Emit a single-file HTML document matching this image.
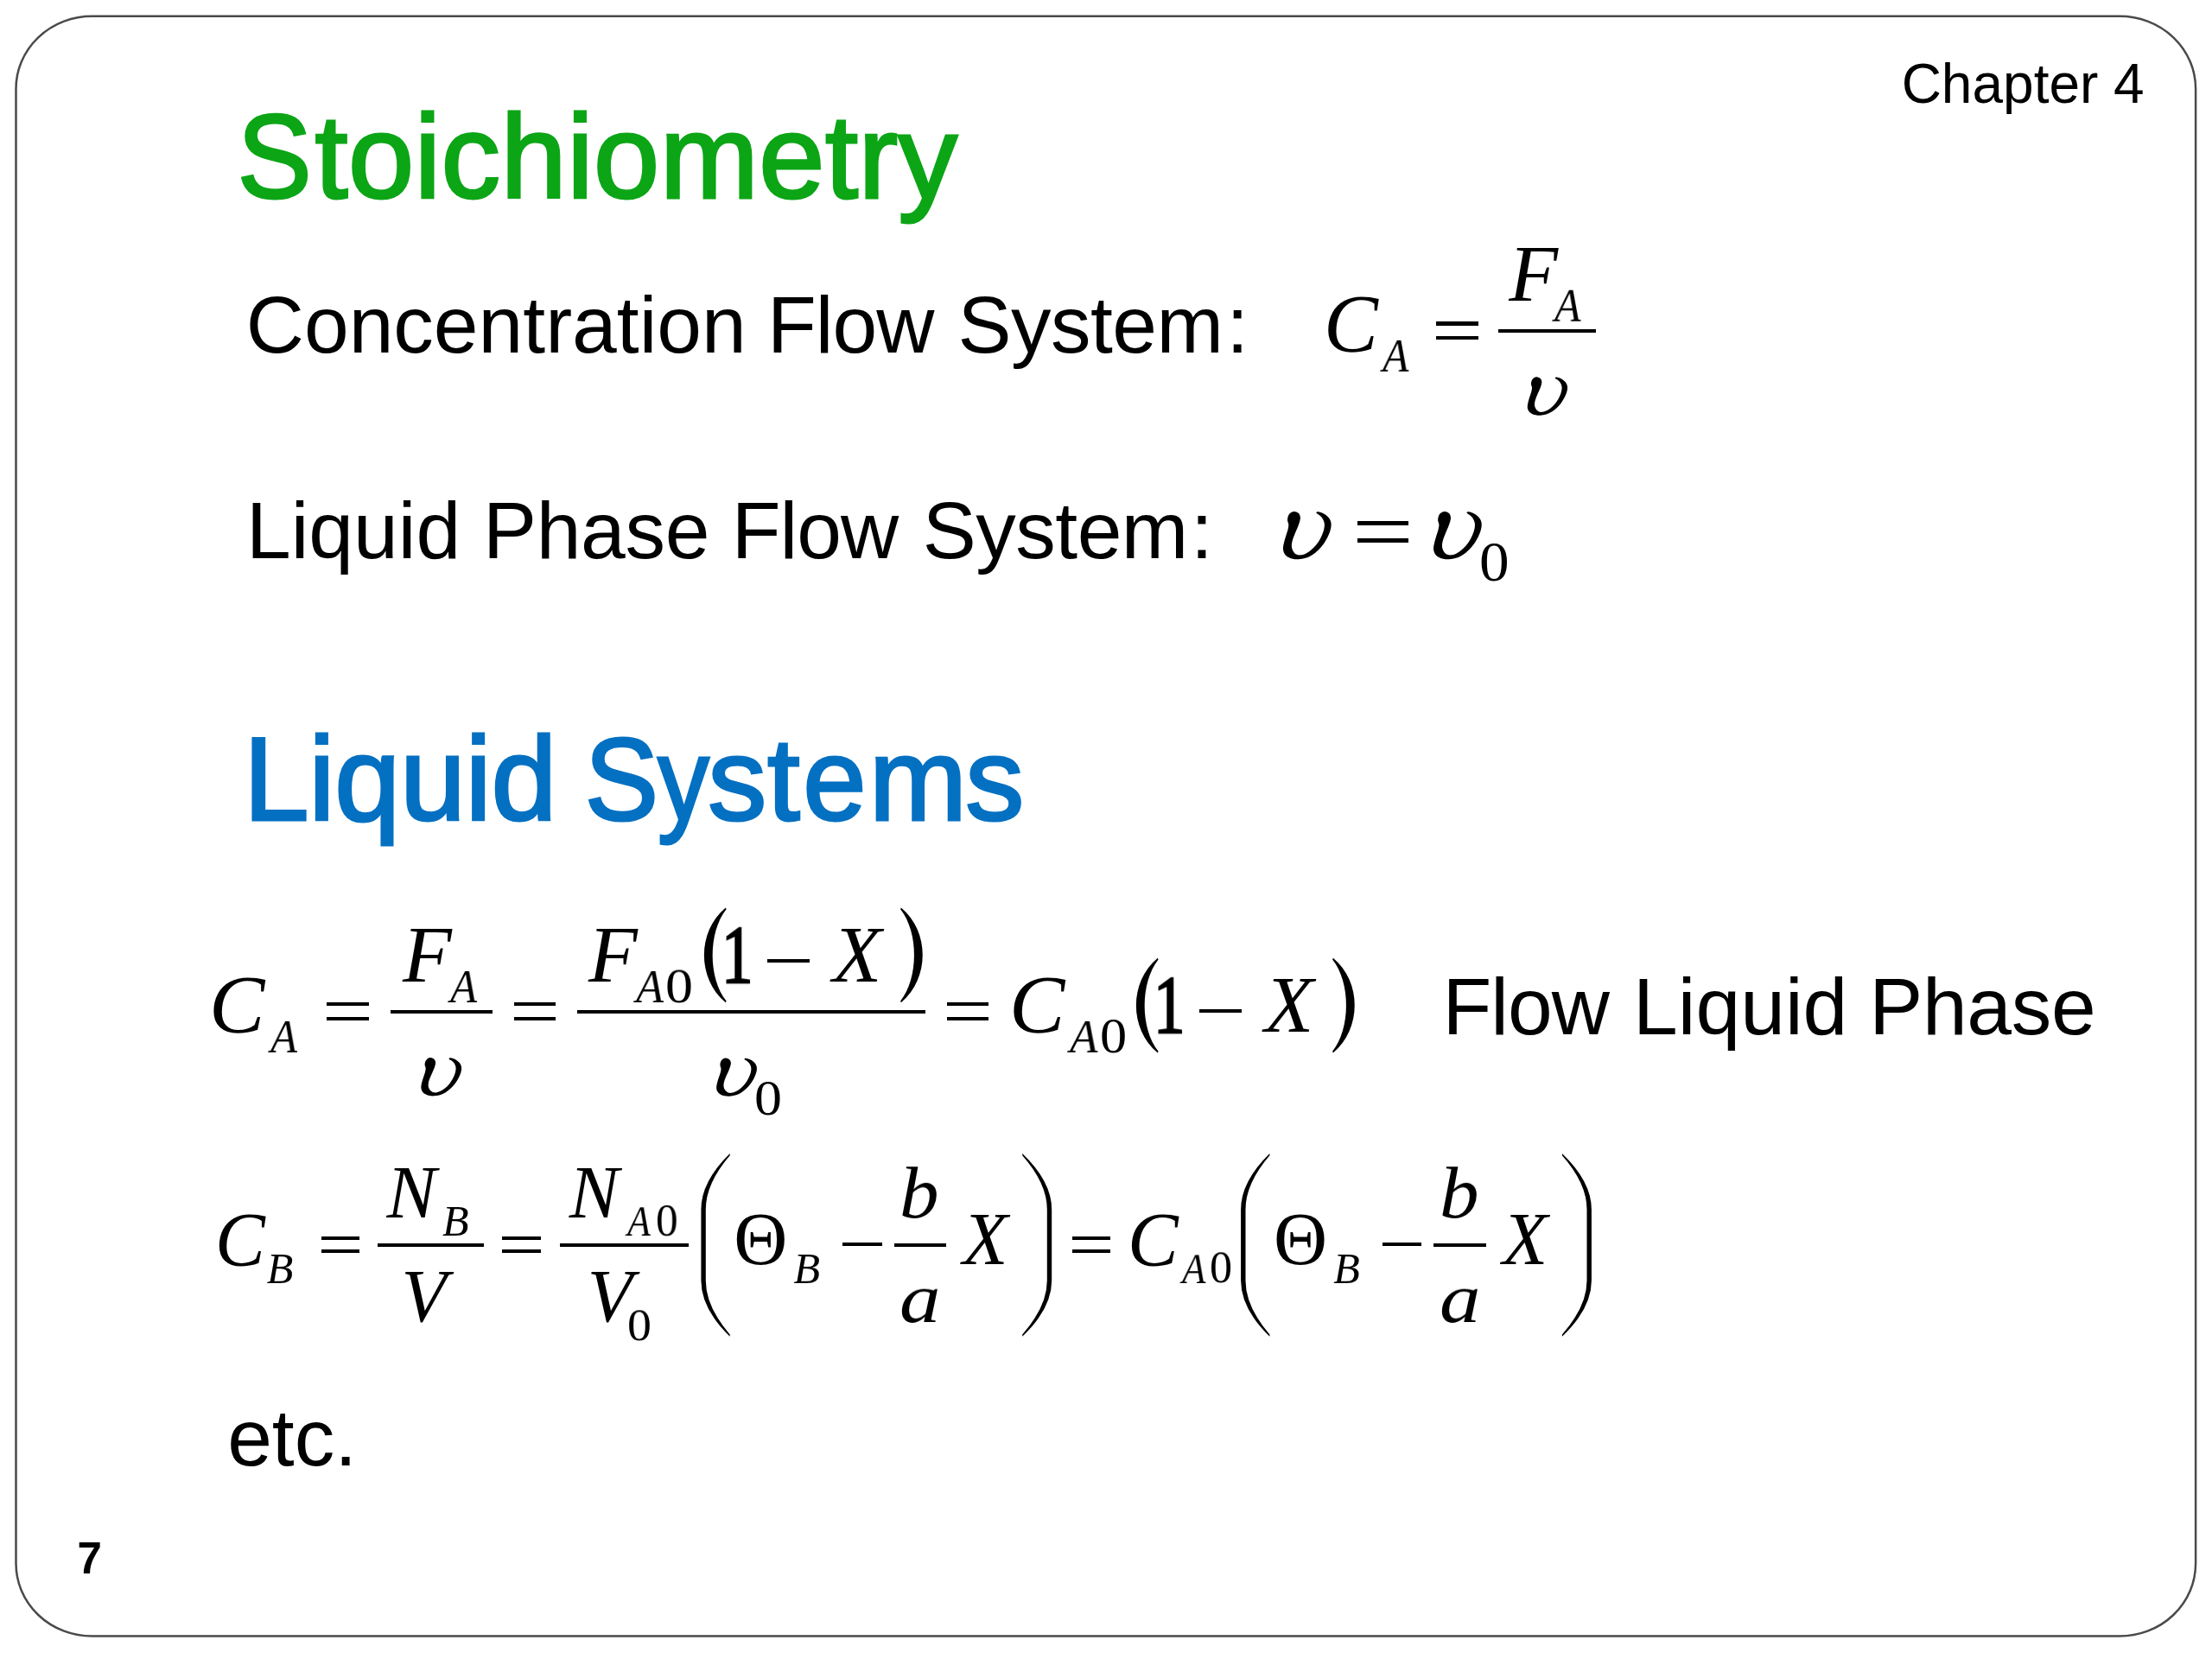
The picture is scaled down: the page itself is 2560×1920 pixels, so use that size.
<!DOCTYPE html>
<html lang="en"><head><meta charset="utf-8"><title>Stoichiometry</title>
<style>
html,body{margin:0;padding:0;background:#fff;}
body{width:2560px;height:1920px;position:relative;overflow:hidden;}
.t{position:absolute;white-space:pre;line-height:1;color:#000;}
.sans{font-family:"Liberation Sans",sans-serif;}
.sansb{font-family:"Liberation Sans",sans-serif;font-weight:bold;}
.ser{font-family:"Liberation Serif",serif;}
.seri{font-family:"Liberation Serif",serif;font-style:italic;}
.bar{position:absolute;background:#000;}
svg.ov{position:absolute;left:0;top:0;}
</style></head>
<body>
<svg class="ov" width="2560" height="1920" viewBox="0 0 2560 1920">
<rect x="18.5" y="18.7" width="2522.6" height="1874.9" rx="88" ry="84" fill="none" stroke="#4a4a4a" stroke-width="2.5"/>
<path transform="translate(1767.60 480.20) scale(0.09486 0.09160)" d="M 107.9 -479.4 C 96.6 -477.8 83.6 -471.3 74.1 -462.5 C 64.5 -453.7 55.4 -439.6 50.8 -426.5 C 46.2 -413.5 45.5 -397.6 46.5 -384.2 C 47.6 -370.8 56.8 -361.7 57.1 -346.1 C 57.5 -330.6 53.2 -310.2 48.7 -291.1 C 44.1 -272.1 35.6 -251.6 29.6 -231.9 C 23.6 -212.1 17.3 -191.7 12.7 -172.6 C 8.1 -153.6 3.5 -133.2 2.1 -117.6 C 0.7 -102.1 1.4 -91.5 4.2 -79.6 C 7.1 -67.6 10.9 -56.3 19.0 -45.7 C 27.2 -35.1 39.5 -24.0 52.9 -16.1 C 66.3 -8.2 81.8 -2.0 99.4 1.7 C 117.1 5.4 136.8 7.3 158.7 5.9 C 180.5 4.5 208.0 0.3 230.6 -6.8 C 253.2 -13.8 272.9 -23.0 294.1 -36.4 C 315.2 -49.8 337.8 -68.1 357.6 -87.2 C 377.3 -106.2 396.4 -128.1 412.6 -150.6 C 428.8 -173.2 443.6 -200.0 454.9 -222.6 C 466.2 -245.1 474.5 -266.9 480.3 -286.1 C 486.1 -305.2 488.9 -322.0 489.6 -337.7 C 490.3 -353.3 488.9 -366.6 484.5 -380.0 C 480.1 -393.4 473.2 -406.2 463.4 -418.1 C 453.5 -429.9 439.4 -442.1 425.3 -451.1 C 411.2 -460.1 391.8 -467.9 378.7 -472.2 C 365.7 -476.6 347.0 -477.3 347.0 -477.3 C 347.0 -477.3 336.4 -462.5 336.4 -462.5 C 336.4 -462.5 359.7 -449.8 370.3 -441.3 C 380.8 -432.9 392.0 -423.4 399.9 -411.7 C 407.8 -400.1 414.1 -385.3 417.7 -371.5 C 421.2 -357.8 422.6 -346.1 421.0 -329.2 C 419.5 -312.3 415.4 -291.1 408.3 -270.0 C 401.3 -248.8 390.7 -224.1 378.7 -202.3 C 366.7 -180.4 351.9 -157.8 336.4 -138.8 C 320.9 -119.8 302.6 -102.1 285.6 -88.0 C 268.7 -73.9 251.8 -62.6 234.8 -54.2 C 217.9 -45.7 199.6 -39.4 184.1 -37.2 C 168.6 -35.1 154.1 -36.5 141.8 -41.5 C 129.4 -46.4 118.3 -56.3 110.0 -66.9 C 101.7 -77.4 95.4 -91.5 91.8 -104.9 C 88.3 -118.3 87.2 -131.0 88.9 -147.3 C 90.5 -163.5 95.6 -183.2 101.6 -202.3 C 107.6 -221.3 116.7 -241.8 124.8 -261.5 C 132.9 -281.3 143.0 -302.4 150.2 -320.7 C 157.4 -339.1 163.6 -356.0 168.0 -371.5 C 172.4 -387.0 176.6 -400.8 176.5 -413.8 C 176.3 -426.9 172.9 -440.1 167.1 -449.8 C 161.4 -459.5 151.6 -467.3 141.8 -472.2 C 131.9 -477.2 119.2 -481.1 107.9 -479.4 Z"/>
<path transform="translate(1484.80 646.60) scale(0.11400 0.11400)" d="M 107.9 -479.4 C 96.6 -477.8 83.6 -471.3 74.1 -462.5 C 64.5 -453.7 55.4 -439.6 50.8 -426.5 C 46.2 -413.5 45.5 -397.6 46.5 -384.2 C 47.6 -370.8 56.8 -361.7 57.1 -346.1 C 57.5 -330.6 53.2 -310.2 48.7 -291.1 C 44.1 -272.1 35.6 -251.6 29.6 -231.9 C 23.6 -212.1 17.3 -191.7 12.7 -172.6 C 8.1 -153.6 3.5 -133.2 2.1 -117.6 C 0.7 -102.1 1.4 -91.5 4.2 -79.6 C 7.1 -67.6 10.9 -56.3 19.0 -45.7 C 27.2 -35.1 39.5 -24.0 52.9 -16.1 C 66.3 -8.2 81.8 -2.0 99.4 1.7 C 117.1 5.4 136.8 7.3 158.7 5.9 C 180.5 4.5 208.0 0.3 230.6 -6.8 C 253.2 -13.8 272.9 -23.0 294.1 -36.4 C 315.2 -49.8 337.8 -68.1 357.6 -87.2 C 377.3 -106.2 396.4 -128.1 412.6 -150.6 C 428.8 -173.2 443.6 -200.0 454.9 -222.6 C 466.2 -245.1 474.5 -266.9 480.3 -286.1 C 486.1 -305.2 488.9 -322.0 489.6 -337.7 C 490.3 -353.3 488.9 -366.6 484.5 -380.0 C 480.1 -393.4 473.2 -406.2 463.4 -418.1 C 453.5 -429.9 439.4 -442.1 425.3 -451.1 C 411.2 -460.1 391.8 -467.9 378.7 -472.2 C 365.7 -476.6 347.0 -477.3 347.0 -477.3 C 347.0 -477.3 336.4 -462.5 336.4 -462.5 C 336.4 -462.5 359.7 -449.8 370.3 -441.3 C 380.8 -432.9 392.0 -423.4 399.9 -411.7 C 407.8 -400.1 414.1 -385.3 417.7 -371.5 C 421.2 -357.8 422.6 -346.1 421.0 -329.2 C 419.5 -312.3 415.4 -291.1 408.3 -270.0 C 401.3 -248.8 390.7 -224.1 378.7 -202.3 C 366.7 -180.4 351.9 -157.8 336.4 -138.8 C 320.9 -119.8 302.6 -102.1 285.6 -88.0 C 268.7 -73.9 251.8 -62.6 234.8 -54.2 C 217.9 -45.7 199.6 -39.4 184.1 -37.2 C 168.6 -35.1 154.1 -36.5 141.8 -41.5 C 129.4 -46.4 118.3 -56.3 110.0 -66.9 C 101.7 -77.4 95.4 -91.5 91.8 -104.9 C 88.3 -118.3 87.2 -131.0 88.9 -147.3 C 90.5 -163.5 95.6 -183.2 101.6 -202.3 C 107.6 -221.3 116.7 -241.8 124.8 -261.5 C 132.9 -281.3 143.0 -302.4 150.2 -320.7 C 157.4 -339.1 163.6 -356.0 168.0 -371.5 C 172.4 -387.0 176.6 -400.8 176.5 -413.8 C 176.3 -426.9 172.9 -440.1 167.1 -449.8 C 161.4 -459.5 151.6 -467.3 141.8 -472.2 C 131.9 -477.2 119.2 -481.1 107.9 -479.4 Z"/>
<path transform="translate(1658.90 646.60) scale(0.11400 0.11400)" d="M 107.9 -479.4 C 96.6 -477.8 83.6 -471.3 74.1 -462.5 C 64.5 -453.7 55.4 -439.6 50.8 -426.5 C 46.2 -413.5 45.5 -397.6 46.5 -384.2 C 47.6 -370.8 56.8 -361.7 57.1 -346.1 C 57.5 -330.6 53.2 -310.2 48.7 -291.1 C 44.1 -272.1 35.6 -251.6 29.6 -231.9 C 23.6 -212.1 17.3 -191.7 12.7 -172.6 C 8.1 -153.6 3.5 -133.2 2.1 -117.6 C 0.7 -102.1 1.4 -91.5 4.2 -79.6 C 7.1 -67.6 10.9 -56.3 19.0 -45.7 C 27.2 -35.1 39.5 -24.0 52.9 -16.1 C 66.3 -8.2 81.8 -2.0 99.4 1.7 C 117.1 5.4 136.8 7.3 158.7 5.9 C 180.5 4.5 208.0 0.3 230.6 -6.8 C 253.2 -13.8 272.9 -23.0 294.1 -36.4 C 315.2 -49.8 337.8 -68.1 357.6 -87.2 C 377.3 -106.2 396.4 -128.1 412.6 -150.6 C 428.8 -173.2 443.6 -200.0 454.9 -222.6 C 466.2 -245.1 474.5 -266.9 480.3 -286.1 C 486.1 -305.2 488.9 -322.0 489.6 -337.7 C 490.3 -353.3 488.9 -366.6 484.5 -380.0 C 480.1 -393.4 473.2 -406.2 463.4 -418.1 C 453.5 -429.9 439.4 -442.1 425.3 -451.1 C 411.2 -460.1 391.8 -467.9 378.7 -472.2 C 365.7 -476.6 347.0 -477.3 347.0 -477.3 C 347.0 -477.3 336.4 -462.5 336.4 -462.5 C 336.4 -462.5 359.7 -449.8 370.3 -441.3 C 380.8 -432.9 392.0 -423.4 399.9 -411.7 C 407.8 -400.1 414.1 -385.3 417.7 -371.5 C 421.2 -357.8 422.6 -346.1 421.0 -329.2 C 419.5 -312.3 415.4 -291.1 408.3 -270.0 C 401.3 -248.8 390.7 -224.1 378.7 -202.3 C 366.7 -180.4 351.9 -157.8 336.4 -138.8 C 320.9 -119.8 302.6 -102.1 285.6 -88.0 C 268.7 -73.9 251.8 -62.6 234.8 -54.2 C 217.9 -45.7 199.6 -39.4 184.1 -37.2 C 168.6 -35.1 154.1 -36.5 141.8 -41.5 C 129.4 -46.4 118.3 -56.3 110.0 -66.9 C 101.7 -77.4 95.4 -91.5 91.8 -104.9 C 88.3 -118.3 87.2 -131.0 88.9 -147.3 C 90.5 -163.5 95.6 -183.2 101.6 -202.3 C 107.6 -221.3 116.7 -241.8 124.8 -261.5 C 132.9 -281.3 143.0 -302.4 150.2 -320.7 C 157.4 -339.1 163.6 -356.0 168.0 -371.5 C 172.4 -387.0 176.6 -400.8 176.5 -413.8 C 176.3 -426.9 172.9 -440.1 167.1 -449.8 C 161.4 -459.5 151.6 -467.3 141.8 -472.2 C 131.9 -477.2 119.2 -481.1 107.9 -479.4 Z"/>
<path transform="translate(487.20 1267.80) scale(0.09579 0.09114)" d="M 107.9 -479.4 C 96.6 -477.8 83.6 -471.3 74.1 -462.5 C 64.5 -453.7 55.4 -439.6 50.8 -426.5 C 46.2 -413.5 45.5 -397.6 46.5 -384.2 C 47.6 -370.8 56.8 -361.7 57.1 -346.1 C 57.5 -330.6 53.2 -310.2 48.7 -291.1 C 44.1 -272.1 35.6 -251.6 29.6 -231.9 C 23.6 -212.1 17.3 -191.7 12.7 -172.6 C 8.1 -153.6 3.5 -133.2 2.1 -117.6 C 0.7 -102.1 1.4 -91.5 4.2 -79.6 C 7.1 -67.6 10.9 -56.3 19.0 -45.7 C 27.2 -35.1 39.5 -24.0 52.9 -16.1 C 66.3 -8.2 81.8 -2.0 99.4 1.7 C 117.1 5.4 136.8 7.3 158.7 5.9 C 180.5 4.5 208.0 0.3 230.6 -6.8 C 253.2 -13.8 272.9 -23.0 294.1 -36.4 C 315.2 -49.8 337.8 -68.1 357.6 -87.2 C 377.3 -106.2 396.4 -128.1 412.6 -150.6 C 428.8 -173.2 443.6 -200.0 454.9 -222.6 C 466.2 -245.1 474.5 -266.9 480.3 -286.1 C 486.1 -305.2 488.9 -322.0 489.6 -337.7 C 490.3 -353.3 488.9 -366.6 484.5 -380.0 C 480.1 -393.4 473.2 -406.2 463.4 -418.1 C 453.5 -429.9 439.4 -442.1 425.3 -451.1 C 411.2 -460.1 391.8 -467.9 378.7 -472.2 C 365.7 -476.6 347.0 -477.3 347.0 -477.3 C 347.0 -477.3 336.4 -462.5 336.4 -462.5 C 336.4 -462.5 359.7 -449.8 370.3 -441.3 C 380.8 -432.9 392.0 -423.4 399.9 -411.7 C 407.8 -400.1 414.1 -385.3 417.7 -371.5 C 421.2 -357.8 422.6 -346.1 421.0 -329.2 C 419.5 -312.3 415.4 -291.1 408.3 -270.0 C 401.3 -248.8 390.7 -224.1 378.7 -202.3 C 366.7 -180.4 351.9 -157.8 336.4 -138.8 C 320.9 -119.8 302.6 -102.1 285.6 -88.0 C 268.7 -73.9 251.8 -62.6 234.8 -54.2 C 217.9 -45.7 199.6 -39.4 184.1 -37.2 C 168.6 -35.1 154.1 -36.5 141.8 -41.5 C 129.4 -46.4 118.3 -56.3 110.0 -66.9 C 101.7 -77.4 95.4 -91.5 91.8 -104.9 C 88.3 -118.3 87.2 -131.0 88.9 -147.3 C 90.5 -163.5 95.6 -183.2 101.6 -202.3 C 107.6 -221.3 116.7 -241.8 124.8 -261.5 C 132.9 -281.3 143.0 -302.4 150.2 -320.7 C 157.4 -339.1 163.6 -356.0 168.0 -371.5 C 172.4 -387.0 176.6 -400.8 176.5 -413.8 C 176.3 -426.9 172.9 -440.1 167.1 -449.8 C 161.4 -459.5 151.6 -467.3 141.8 -472.2 C 131.9 -477.2 119.2 -481.1 107.9 -479.4 Z"/>
<path d="M 839.80 1050.60 C 806.60 1078.00 806.60 1132.80 839.80 1160.20 L 840.60 1158.60 C 819.40 1132.00 819.40 1078.80 840.60 1052.20 Z"/>
<path d="M 1042.90 1050.60 C 1076.10 1078.00 1076.10 1132.80 1042.90 1160.20 L 1042.10 1158.60 C 1063.30 1132.00 1063.30 1078.80 1042.10 1052.20 Z"/>
<path transform="translate(829.00 1268.20) scale(0.09579 0.09114)" d="M 107.9 -479.4 C 96.6 -477.8 83.6 -471.3 74.1 -462.5 C 64.5 -453.7 55.4 -439.6 50.8 -426.5 C 46.2 -413.5 45.5 -397.6 46.5 -384.2 C 47.6 -370.8 56.8 -361.7 57.1 -346.1 C 57.5 -330.6 53.2 -310.2 48.7 -291.1 C 44.1 -272.1 35.6 -251.6 29.6 -231.9 C 23.6 -212.1 17.3 -191.7 12.7 -172.6 C 8.1 -153.6 3.5 -133.2 2.1 -117.6 C 0.7 -102.1 1.4 -91.5 4.2 -79.6 C 7.1 -67.6 10.9 -56.3 19.0 -45.7 C 27.2 -35.1 39.5 -24.0 52.9 -16.1 C 66.3 -8.2 81.8 -2.0 99.4 1.7 C 117.1 5.4 136.8 7.3 158.7 5.9 C 180.5 4.5 208.0 0.3 230.6 -6.8 C 253.2 -13.8 272.9 -23.0 294.1 -36.4 C 315.2 -49.8 337.8 -68.1 357.6 -87.2 C 377.3 -106.2 396.4 -128.1 412.6 -150.6 C 428.8 -173.2 443.6 -200.0 454.9 -222.6 C 466.2 -245.1 474.5 -266.9 480.3 -286.1 C 486.1 -305.2 488.9 -322.0 489.6 -337.7 C 490.3 -353.3 488.9 -366.6 484.5 -380.0 C 480.1 -393.4 473.2 -406.2 463.4 -418.1 C 453.5 -429.9 439.4 -442.1 425.3 -451.1 C 411.2 -460.1 391.8 -467.9 378.7 -472.2 C 365.7 -476.6 347.0 -477.3 347.0 -477.3 C 347.0 -477.3 336.4 -462.5 336.4 -462.5 C 336.4 -462.5 359.7 -449.8 370.3 -441.3 C 380.8 -432.9 392.0 -423.4 399.9 -411.7 C 407.8 -400.1 414.1 -385.3 417.7 -371.5 C 421.2 -357.8 422.6 -346.1 421.0 -329.2 C 419.5 -312.3 415.4 -291.1 408.3 -270.0 C 401.3 -248.8 390.7 -224.1 378.7 -202.3 C 366.7 -180.4 351.9 -157.8 336.4 -138.8 C 320.9 -119.8 302.6 -102.1 285.6 -88.0 C 268.7 -73.9 251.8 -62.6 234.8 -54.2 C 217.9 -45.7 199.6 -39.4 184.1 -37.2 C 168.6 -35.1 154.1 -36.5 141.8 -41.5 C 129.4 -46.4 118.3 -56.3 110.0 -66.9 C 101.7 -77.4 95.4 -91.5 91.8 -104.9 C 88.3 -118.3 87.2 -131.0 88.9 -147.3 C 90.5 -163.5 95.6 -183.2 101.6 -202.3 C 107.6 -221.3 116.7 -241.8 124.8 -261.5 C 132.9 -281.3 143.0 -302.4 150.2 -320.7 C 157.4 -339.1 163.6 -356.0 168.0 -371.5 C 172.4 -387.0 176.6 -400.8 176.5 -413.8 C 176.3 -426.9 172.9 -440.1 167.1 -449.8 C 161.4 -459.5 151.6 -467.3 141.8 -472.2 C 131.9 -477.2 119.2 -481.1 107.9 -479.4 Z"/>
<path d="M 1339.80 1108.80 C 1306.60 1136.20 1306.60 1191.00 1339.80 1218.40 L 1340.60 1216.80 C 1319.40 1190.20 1319.40 1137.00 1340.60 1110.40 Z"/>
<path d="M 1542.90 1108.80 C 1576.10 1136.20 1576.10 1191.00 1542.90 1218.40 L 1542.10 1216.80 C 1563.30 1190.20 1563.30 1137.00 1542.10 1110.40 Z"/>
<path d="M 844.70 1334.90 Q 811.40 1367.32 811.40 1399.74 L 811.40 1481.96 Q 811.40 1514.38 844.70 1546.80 L 844.70 1544.40 Q 816.80 1511.98 816.80 1481.96 L 816.80 1399.74 Q 816.80 1369.72 844.70 1337.30 Z"/>
<path d="M 1183.20 1334.90 Q 1217.20 1367.32 1217.20 1399.74 L 1217.20 1481.96 Q 1217.20 1514.38 1183.20 1546.80 L 1183.20 1544.40 Q 1211.80 1511.98 1211.80 1481.96 L 1211.80 1399.74 Q 1211.80 1369.72 1183.20 1337.30 Z"/>
<path d="M 1469.40 1334.90 Q 1436.10 1367.32 1436.10 1399.74 L 1436.10 1481.96 Q 1436.10 1514.38 1469.40 1546.80 L 1469.40 1544.40 Q 1441.50 1511.98 1441.50 1481.96 L 1441.50 1399.74 Q 1441.50 1369.72 1469.40 1337.30 Z"/>
<path d="M 1807.90 1334.90 Q 1841.90 1367.32 1841.90 1399.74 L 1841.90 1481.96 Q 1841.90 1514.38 1807.90 1546.80 L 1807.90 1544.40 Q 1836.50 1511.98 1836.50 1481.96 L 1836.50 1399.74 Q 1836.50 1369.72 1807.90 1337.30 Z"/>
</svg>
<span class="t sans" style="left:2200.65px;top:64.50px;font-size:64px;">Chapter 4</span>
<span class="t sans" style="left:272.13px;top:113.30px;font-size:137px;color:#0ca516;-webkit-text-stroke:3px #0ca516;transform:scaleX(0.94);transform-origin:45.66px 50%;">S</span>
<span class="t sans" style="left:364.56px;top:113.30px;font-size:137px;color:#0ca516;letter-spacing:0.45px;-webkit-text-stroke:3px #0ca516;">toichiometry</span>
<span class="t sans" style="left:284.78px;top:329.50px;font-size:93px;">Concentration</span>
<span class="t sans" style="left:888.07px;top:329.50px;font-size:93px;letter-spacing:-1.0px;">Flow</span>
<span class="t sans" style="left:1108.48px;top:329.50px;font-size:93px;letter-spacing:-0.5px;">System</span>
<span class="t sans" style="left:1419.31px;top:329.50px;font-size:93px;">:</span>
<span class="t sans" style="left:284.97px;top:567.50px;font-size:93px;">Liquid</span>
<span class="t sans" style="left:558.97px;top:567.50px;font-size:93px;letter-spacing:-0.3px;">Phase</span>
<span class="t sans" style="left:846.77px;top:567.50px;font-size:93px;letter-spacing:-1.0px;">Flow</span>
<span class="t sans" style="left:1067.78px;top:567.50px;font-size:93px;letter-spacing:-0.5px;">System</span>
<span class="t sans" style="left:1378.01px;top:567.50px;font-size:93px;">:</span>
<span class="t sans" style="left:281.70px;top:833.55px;font-size:136.5px;color:#0470c2;letter-spacing:-0.3px;-webkit-text-stroke:3px #0470c2;">Liquid</span>
<span class="t sans" style="left:673.68px;top:834.30px;font-size:136px;color:#0470c2;-webkit-text-stroke:3px #0470c2;transform:scaleX(0.94);transform-origin:45.32px 50%;">S</span>
<span class="t sans" style="left:757.17px;top:834.30px;font-size:136px;color:#0470c2;-webkit-text-stroke:3px #0470c2;transform:scaleX(0.88);transform-origin:34.03px 50%;">y</span>
<span class="t sans" style="left:819.16px;top:834.30px;font-size:136px;color:#0470c2;-webkit-text-stroke:3px #0470c2;">s</span>
<span class="t sans" style="left:888.08px;top:834.30px;font-size:136px;color:#0470c2;-webkit-text-stroke:3px #0470c2;">t</span>
<span class="t sans" style="left:927.81px;top:834.30px;font-size:136px;color:#0470c2;-webkit-text-stroke:3px #0470c2;transform:scaleX(0.97);transform-origin:37.69px 50%;">e</span>
<span class="t sans" style="left:1005.72px;top:834.30px;font-size:136px;color:#0470c2;-webkit-text-stroke:3px #0470c2;">m</span>
<span class="t sans" style="left:1117.16px;top:834.30px;font-size:136px;color:#0470c2;-webkit-text-stroke:3px #0470c2;">s</span>
<span class="t sans" style="left:1669.47px;top:1119.10px;font-size:93px;letter-spacing:-1.0px;">Flow</span>
<span class="t sans" style="left:1890.07px;top:1119.10px;font-size:93px;">Liquid</span>
<span class="t sans" style="left:2163.17px;top:1119.10px;font-size:93px;letter-spacing:-0.3px;">Phase</span>
<span class="t sans" style="left:263.15px;top:1618.00px;font-size:93px;">etc.</span>
<span class="t sansb" style="left:89.41px;top:1778.00px;font-size:51px;">7</span>
<span class="t seri" style="left:1531.75px;top:329.11px;font-size:93px;transform-origin:0 78.00px;transform:scale(1.0136,1.0330);will-change:transform;">C</span>
<span class="t seri" style="left:1599.51px;top:384.50px;font-size:54px;transform-origin:0 45.00px;transform:scale(0.9191,1.0239);will-change:transform;">A</span>
<div class="bar" style="left:1662.30px;top:372.43px;width:48.36px;height:4.278px;"></div>
<div class="bar" style="left:1662.30px;top:388.89px;width:48.36px;height:4.278px;"></div>
<div class="bar" style="left:1733.50px;top:381.30px;width:113.90px;height:4.2px;"></div>
<span class="t seri" style="left:1746.30px;top:269.70px;font-size:93px;">F</span>
<span class="t seri" style="left:1798.73px;top:326.60px;font-size:54px;transform-origin:0 45.00px;transform:scale(0.9246,1.0267);will-change:transform;">A</span>
<div class="bar" style="left:1571.00px;top:602.99px;width:59.28px;height:5.244px;"></div>
<div class="bar" style="left:1571.00px;top:623.17px;width:59.28px;height:5.244px;"></div>
<span class="t ser" style="left:1712.36px;top:617.35px;font-size:66px;transform-origin:0 55.50px;transform:scale(1.0510,1.0059);will-change:transform;">0</span>
<span class="t seri" style="left:242.43px;top:1116.92px;font-size:93px;transform-origin:0 78.00px;transform:scale(1.0378,1.0186);will-change:transform;">C</span>
<span class="t seri" style="left:312.67px;top:1172.50px;font-size:54px;transform-origin:0 45.00px;transform:scale(0.9385,1.0239);will-change:transform;">A</span>
<div class="bar" style="left:378.20px;top:1160.23px;width:48.36px;height:4.278px;"></div>
<div class="bar" style="left:378.20px;top:1176.69px;width:48.36px;height:4.278px;"></div>
<div class="bar" style="left:451.80px;top:1168.90px;width:117.80px;height:4.2px;"></div>
<span class="t seri" style="left:466.00px;top:1058.20px;font-size:93px;">F</span>
<span class="t seri" style="left:520.98px;top:1114.80px;font-size:54px;transform-origin:0 45.00px;transform:scale(0.9412,1.0211);will-change:transform;">A</span>
<div class="bar" style="left:594.60px;top:1160.23px;width:48.36px;height:4.278px;"></div>
<div class="bar" style="left:594.60px;top:1176.69px;width:48.36px;height:4.278px;"></div>
<div class="bar" style="left:668.40px;top:1169.20px;width:402.60px;height:4.2px;"></div>
<span class="t seri" style="left:680.90px;top:1058.20px;font-size:93px;">F</span>
<span class="t seri" style="left:736.46px;top:1114.80px;font-size:54px;transform-origin:0 45.00px;transform:scale(0.9689,1.0211);will-change:transform;">A</span>
<span class="t ser" style="left:770.16px;top:1111.65px;font-size:57px;transform-origin:0 48.00px;transform:scale(1.1218,0.9879);will-change:transform;">0</span>
<span class="t ser" style="left:835.21px;top:1058.50px;font-size:93px;transform-origin:0 78.00px;transform:scale(0.7819,1.0343);will-change:transform;-webkit-text-stroke:2.4px #000;">1</span>
<div class="bar" style="left:887.60px;top:1109.81px;width:49.29px;height:4.371px;"></div>
<span class="t seri" style="left:963.39px;top:1058.20px;font-size:93px;">X</span>
<span class="t ser" style="left:873.26px;top:1241.84px;font-size:57px;transform-origin:0 48.00px;transform:scale(1.1218,1.0139);will-change:transform;">0</span>
<div class="bar" style="left:1095.60px;top:1160.23px;width:48.36px;height:4.278px;"></div>
<div class="bar" style="left:1095.60px;top:1176.69px;width:48.36px;height:4.278px;"></div>
<span class="t seri" style="left:1167.53px;top:1117.11px;font-size:93px;transform-origin:0 78.00px;transform:scale(1.0378,1.0266);will-change:transform;">C</span>
<span class="t seri" style="left:1238.00px;top:1172.50px;font-size:54px;transform-origin:0 45.00px;transform:scale(0.9828,1.0239);will-change:transform;">A</span>
<span class="t ser" style="left:1272.73px;top:1170.14px;font-size:57px;transform-origin:0 48.00px;transform:scale(1.0928,1.0139);will-change:transform;">0</span>
<span class="t ser" style="left:1335.21px;top:1116.70px;font-size:93px;transform-origin:0 78.00px;transform:scale(0.7819,1.0343);will-change:transform;-webkit-text-stroke:2.4px #000;">1</span>
<div class="bar" style="left:1387.60px;top:1168.01px;width:49.29px;height:4.371px;"></div>
<span class="t seri" style="left:1463.39px;top:1116.40px;font-size:93px;">X</span>
<span class="t seri" style="left:248.87px;top:1391.98px;font-size:86px;transform-origin:0 72.00px;transform:scale(1.0080,1.0288);will-change:transform;">C</span>
<span class="t seri" style="left:308.64px;top:1442.60px;font-size:50px;">B</span>
<div class="bar" style="left:371.60px;top:1430.71px;width:44.72px;height:3.956px;"></div>
<div class="bar" style="left:371.60px;top:1445.93px;width:44.72px;height:3.956px;"></div>
<div class="bar" style="left:436.50px;top:1439.00px;width:123.40px;height:4px;"></div>
<span class="t seri" style="left:447.43px;top:1336.60px;font-size:86px;">N</span>
<span class="t seri" style="left:511.94px;top:1387.70px;font-size:50px;">B</span>
<span class="t seri" style="left:464.41px;top:1457.20px;font-size:86px;">V</span>
<div class="bar" style="left:581.40px;top:1430.71px;width:44.72px;height:3.956px;"></div>
<div class="bar" style="left:581.40px;top:1445.93px;width:44.72px;height:3.956px;"></div>
<div class="bar" style="left:647.80px;top:1439.00px;width:149.50px;height:4px;"></div>
<span class="t seri" style="left:658.73px;top:1336.60px;font-size:86px;">N</span>
<span class="t seri" style="left:726.20px;top:1387.70px;font-size:50px;transform-origin:0 42.00px;transform:scale(0.8790,0.9907);will-change:transform;">A</span>
<span class="t ser" style="left:758.95px;top:1386.79px;font-size:52px;transform-origin:0 43.50px;transform:scale(0.9846,1.0031);will-change:transform;">0</span>
<span class="t seri" style="left:679.71px;top:1457.20px;font-size:86px;">V</span>
<span class="t ser" style="left:726.37px;top:1507.80px;font-size:52px;transform-origin:0 43.50px;transform:scale(1.0754,0.9917);will-change:transform;">0</span>
<span class="t ser" style="left:849.37px;top:1391.30px;font-size:86px;">Θ</span>
<span class="t seri" style="left:918.54px;top:1442.60px;font-size:50px;">B</span>
<div class="bar" style="left:975.20px;top:1437.98px;width:45.58px;height:4.042px;"></div>
<div class="bar" style="left:1034.50px;top:1439.00px;width:60.90px;height:4px;"></div>
<span class="t seri" style="left:1041.41px;top:1336.58px;font-size:86px;transform-origin:0 72.00px;transform:scale(1.0617,0.9800);will-change:transform;">b</span>
<span class="t seri" style="left:1041.17px;top:1458.37px;font-size:86px;transform-origin:0 72.00px;transform:scale(1.1047,0.9356);will-change:transform;">a</span>
<span class="t seri" style="left:1114.06px;top:1390.60px;font-size:86px;">X</span>
<div class="bar" style="left:1240.60px;top:1430.71px;width:44.72px;height:3.956px;"></div>
<div class="bar" style="left:1240.60px;top:1445.93px;width:44.72px;height:3.956px;"></div>
<span class="t seri" style="left:1304.50px;top:1391.98px;font-size:86px;transform-origin:0 72.00px;transform:scale(1.0230,1.0288);will-change:transform;">C</span>
<span class="t seri" style="left:1368.05px;top:1442.60px;font-size:50px;transform-origin:0 42.00px;transform:scale(0.8969,0.9876);will-change:transform;">A</span>
<span class="t ser" style="left:1400.01px;top:1441.30px;font-size:52px;transform-origin:0 43.50px;transform:scale(1.0028,0.9917);will-change:transform;">0</span>
<span class="t ser" style="left:1474.07px;top:1391.30px;font-size:86px;">Θ</span>
<span class="t seri" style="left:1543.24px;top:1442.60px;font-size:50px;">B</span>
<div class="bar" style="left:1599.90px;top:1437.98px;width:45.58px;height:4.042px;"></div>
<div class="bar" style="left:1659.20px;top:1439.00px;width:60.90px;height:4px;"></div>
<span class="t seri" style="left:1666.11px;top:1336.58px;font-size:86px;transform-origin:0 72.00px;transform:scale(1.0617,0.9800);will-change:transform;">b</span>
<span class="t seri" style="left:1665.87px;top:1458.37px;font-size:86px;transform-origin:0 72.00px;transform:scale(1.1047,0.9356);will-change:transform;">a</span>
<span class="t seri" style="left:1738.76px;top:1390.60px;font-size:86px;">X</span>
</body></html>
